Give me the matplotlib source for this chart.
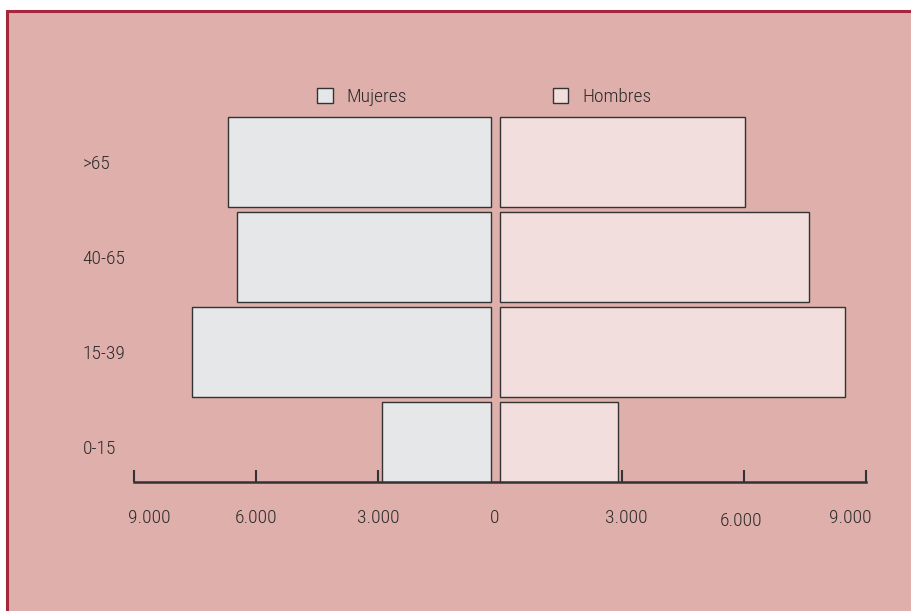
import matplotlib.pyplot as plt
from matplotlib import font_manager
from matplotlib.patches import Rectangle, Patch
from matplotlib.transforms import offset_copy

grupos = ["0-15", "15-39", "40-65", ">65"]
mujeres = [2900, 7570, 6470, 6690]
hombres = [2900, 8480, 7600, 6020]
ticks = [-9000, -6000, -3000, 0, 3000, 6000, 9000]
tick_labels = ["9.000", "6.000", "3.000", "0", "3.000", "6.000", "9.000"]

fondo = "#deafab"
c_muj = "#e6e7e9"
c_hom = "#f2dedc"
borde = "#333333"

# fuente estrecha si existe
nombres = {f.name for f in font_manager.fontManager.ttflist}
fuente = "DejaVu Sans"
stretch = "normal"
for cand in ["Liberation Sans Narrow", "Roboto Condensed", "Open Sans Condensed"]:
    if cand in nombres:
        fuente = cand
        break
else:
    dv = [f for f in font_manager.fontManager.ttflist if f.name == "DejaVu Sans" and f.stretch == "condensed"]
    if dv:
        stretch = "condensed"
    else:
        fuente = "Roboto"
plt.rcParams['font.family'] = [fuente, 'DejaVu Sans']
plt.rcParams['font.stretch'] = stretch
plt.rcParams['font.weight'] = 'light'
fs = 14 if fuente != "Roboto" else 12.5
txt = "#2b2b2b"

fig = plt.figure(figsize=(9.12, 6.11), dpi=100)
fig.patch.set_facecolor("white")
# panel rosa con borde rojo oscuro
fig.patches.append(Rectangle((7 / 912, -0.05), 1.1, 1 - 11 / 611 + 0.05,
                             transform=fig.transFigure, facecolor=fondo,
                             edgecolor="#a3283b", linewidth=2.2, zorder=-5))

ax = fig.add_axes([134 / 912, 1 - 482 / 611, 732 / 912, (482 - 114.5) / 611])
ax.patch.set_alpha(0)

gap = 220
y = range(len(grupos))
ax.barh(y, [-(v - gap) for v in mujeres], left=-gap, height=0.947,
        color=c_muj, edgecolor=borde, linewidth=1.0, label="Mujeres")
ax.barh(y, hombres, left=0, height=0.947,
        color=c_hom, edgecolor=borde, linewidth=1.0, label="Hombres")

ax.set_xlim(-9000, 9000)
ax.set_ylim(-0.368, 3.5)

for s in ["top", "right", "left"]:
    ax.spines[s].set_visible(False)
ax.spines["bottom"].set_color(borde)
ax.spines["bottom"].set_linewidth(1.8)

ax.set_xticks([t for t in ticks if t != 0])
ax.tick_params(axis="x", direction="in", length=9, width=1.5, color=borde,
               labelbottom=False)
offs = [11, 0, 0, -4, 3, -2, -11]
dys = [0, 0, 0, 0, 0, -2, 0]
for t, lab, dx, dy in zip(ticks, tick_labels, offs, dys):
    tr = offset_copy(ax.get_xaxis_transform(), fig=fig, x=dx, y=dy - 26, units="points")
    ax.text(t, 0, lab, transform=tr, ha="center", va="center",
            fontsize=fs, color=txt)

ax.set_yticks(list(y))
ax.set_yticklabels(grupos, fontsize=fs, color=txt, ha="left")
ax.tick_params(axis="y", length=0, pad=37)
for lab in ax.get_yticklabels():
    lab.set_y(lab.get_position()[1])

handles = [Patch(facecolor=c_muj, edgecolor=borde, linewidth=1.0, label="Mujeres"),
           Patch(facecolor=c_hom, edgecolor=borde, linewidth=1.0, label="Hombres")]
fig.legend(handles=handles, loc="center", bbox_to_anchor=(0.531, 1 - 97 / 611),
           ncol=2, frameon=False, fontsize=fs, handlelength=0.8, handleheight=0.8,
           handletextpad=0.7, columnspacing=7.5, labelcolor=txt)

fig.savefig("out.png", dpi=100)
